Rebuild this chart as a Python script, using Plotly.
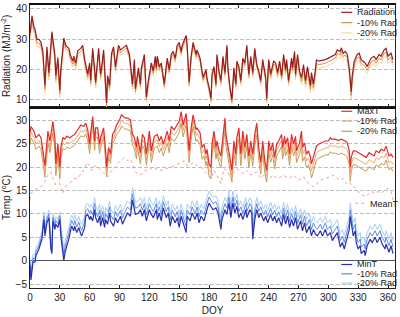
import numpy as np
import plotly.graph_objects as go

# ---------------- data ----------------
rad_doy = [0, 2, 4, 5, 7, 9, 11, 13, 15, 17, 19, 22, 25, 26, 28, 30, 31, 34, 36, 39, 41, 43, 44, 46, 48, 51, 53, 55, 58, 60,
           61, 63, 65, 66, 69, 71, 72, 74, 77, 78, 80, 82, 84, 86, 89, 91, 95, 97, 100, 103, 105, 106, 109, 111, 112, 115, 117, 119, 122, 124,
           126, 127, 128, 130, 132, 135, 138, 140, 142, 144, 146, 148, 150, 152, 153, 157, 158, 160, 162, 164, 167, 168, 171, 174, 177, 178, 180, 182, 183, 185,
           187, 188, 190, 192, 194, 196, 198, 199, 201, 203, 205, 207, 208, 210, 212, 214, 216, 218, 220, 222, 224, 226, 228, 230, 232, 234, 237, 238, 240, 242,
           245, 247, 249, 251, 253, 255, 257, 258, 260, 263, 264, 266, 267, 269, 271, 273, 275, 277, 279, 282, 283, 285, 287, 288, 290, 293, 297, 300, 303, 307,
           309, 312, 313, 315, 317, 319, 321, 323, 324, 326, 329, 331, 333, 335, 337, 339, 341, 343, 346, 348, 351, 353, 356, 358, 360, 363, 365]
rad_val = [32, 37.7, 34, 33.4, 30, 30, 29, 26, 14.8, 27.5, 19, 32.5, 25, 18, 24, 13.2, 20, 30.4, 28, 27, 24.4, 22.8, 24.4, 22.2, 26.2, 27, 28, 23.3, 18.5, 22.2,
           16.4, 27, 20, 15.9, 27, 18.5, 20.6, 26.5, 9, 18, 14.8, 25.4, 27.5, 21, 28, 26.5, 27.5, 28, 25, 15.3, 23.3, 13.7, 20.6, 15.3, 20.6, 25, 11, 16.4, 22.2, 19.6,
           24.4, 20.6, 24.4, 21, 22.2, 15.3, 23.8, 20, 25, 26, 23.8, 28, 29, 26, 28, 31.3, 28, 15.9, 24.4, 29, 25, 26.5, 23.8, 17.4, 20, 17, 14.3, 10.5, 18.5, 21,
           15.3, 25, 19.6, 16.4, 24.4, 19, 28, 20.6, 14.3, 10, 20.6, 15.3, 22.8, 21, 16.4, 23.8, 22.2, 28, 18.5, 24.4, 19, 27, 21.7, 19.6, 16.4, 23.3, 17.4, 10.5, 23.3, 18.5,
           22.8, 22.2, 19, 22.8, 18, 25, 20, 23.3, 16.4, 23.8, 20.6, 26, 18.5, 25, 19.6, 17.4, 21.7, 16.4, 21, 14.8, 19, 15.3, 20, 23.3, 22.8, 23, 23.3, 23.8, 24.4, 25,
           26.5, 26, 27.2, 25.4, 26, 25, 20.6, 12.7, 18, 22.8, 25, 25.4, 23.3, 22.8, 22.2, 21, 22.2, 23.8, 24.4, 23.3, 25, 24.4, 26.5, 27, 24.4, 25.4, 23.3]

tmax_doy = [0, 1, 4, 6, 9, 11, 13, 15, 18, 20, 23, 25, 26, 28, 30, 31, 33, 35, 37, 40, 42, 45, 48, 51, 54, 56, 58, 60, 61, 63,
            65, 66, 68, 70, 71, 74, 76, 77, 79, 81, 83, 85, 87, 90, 92, 95, 98, 101, 103, 105, 107, 108, 111, 113, 115, 117, 120, 122, 125, 128,
            130, 132, 134, 137, 138, 140, 142, 145, 148, 150, 152, 154, 157, 158, 160, 162, 164, 167, 168, 171, 173, 175, 177, 178, 180, 182, 183, 185, 187, 188,
            190, 192, 194, 196, 197, 199, 201, 203, 205, 207, 208, 210, 212, 214, 216, 218, 220, 222, 224, 226, 228, 230, 232, 234, 236, 238, 240, 242, 244, 246,
            248, 250, 253, 254, 256, 257, 259, 261, 263, 265, 267, 268, 271, 273, 274, 276, 278, 280, 282, 283, 285, 287, 288, 290, 293, 297, 300, 302, 303, 307,
            310, 313, 317, 319, 321, 322, 323, 325, 327, 330, 333, 336, 338, 341, 343, 346, 348, 351, 353, 356, 358, 361, 363, 365]
tmax_val = [27.3, 28.7, 27.7, 26.3, 27, 26.3, 23.5, 20.3, 27.7, 25.6, 29.8, 26.3, 20.7, 25, 20, 24.2, 26.3, 26, 26.6, 26.3, 26.6, 27, 28, 29, 28.7, 29.4, 28, 24.9, 27.3, 30.8,
            25.6, 28.4, 28.4, 24.9, 26.3, 28.4, 23.5, 20, 24.2, 22.8, 27, 27.7, 29, 30.1, 31.2, 30.6, 30.5, 30.1, 27, 26.3, 24.2, 26.6, 23.1, 27, 26.3, 22.8, 27.7, 23.5, 26.6, 27,
            25.6, 26.6, 24.9, 27, 27.7, 25.6, 28.7, 28, 29, 29.8, 31.9, 29, 31.5, 29, 23.5, 28.4, 31.2, 28, 28.4, 27.3, 24.2, 24.9, 22.8, 23.8, 20.7, 20, 24.9, 27.7, 24.2, 25.6,
            23.5, 22.4, 27, 30.5, 27, 24.9, 22.1, 19.3, 25.6, 22.8, 26.3, 28.4, 22.8, 27.7, 24.2, 27, 22.4, 25.6, 22.8, 27, 29.4, 24.2, 21, 25.6, 21.4, 19.3, 25.6, 23.5, 25.2, 22.1,
            24.9, 25.6, 27, 24.2, 26.6, 24.9, 26.3, 22.8, 27, 24.9, 26.6, 23.5, 25.2, 27.7, 24.2, 25.2, 22.8, 23.5, 22.1, 20.7, 22.1, 23.5, 24.5, 24.9, 25.2, 25.6, 25.6, 26.3, 26, 26,
            25.7, 26, 25.6, 25.2, 23.5, 20, 22.1, 23.5, 23.5, 23.1, 22.8, 22.4, 22.1, 23.1, 22.8, 22.4, 23.5, 23.1, 23.8, 23.5, 24.5, 22.4, 22.8, 22.1]

tmean_doy = [0, 1, 5, 8, 11, 15, 18, 21, 23, 26, 30, 33, 35, 38, 41, 45, 48, 51, 55, 57, 60, 62, 65, 68, 71, 75, 78, 81, 85, 88,
             91, 95, 98, 101, 104, 106, 110, 113, 116, 120, 123, 126, 132, 138, 145, 152, 155, 158, 162, 165, 168, 172, 175, 178, 182, 185, 188, 192, 195, 198,
             202, 205, 208, 212, 215, 218, 222, 225, 228, 232, 235, 238, 242, 245, 248, 252, 255, 260, 265, 270, 275, 280, 285, 288, 292, 297, 302, 305, 308, 312,
             315, 318, 321, 323, 327, 330, 333, 337, 340, 343, 347, 350, 353, 357, 360, 363, 365]
tmean_val = [13, 14.4, 15.1, 15.5, 15.8, 16.9, 18.3, 19, 17.6, 16.2, 16.5, 14.4, 15.8, 16.2, 16.9, 17.6, 17.6, 18.6, 19.7, 21, 20.3, 19.3, 20.3, 20, 19.3, 18.6, 17.9, 19, 19.7, 20.7,
             21.4, 22.1, 21.4, 21.7, 20.3, 19, 18.3, 18.6, 19.3, 19.3, 20, 19.7, 19.3, 19.7, 20.3, 21, 21.4, 20.3, 20.7, 21, 20.3, 20, 19.3, 18.6, 17.6, 19.3, 18.3, 16.5, 19.7, 19.3,
             17.6, 19, 19.7, 19, 18.6, 19.3, 18.3, 18.6, 19, 17.6, 18.3, 17.2, 17.9, 18.3, 17.6, 17.9, 18.3, 17.6, 18.3, 17.2, 17.9, 16.5, 15.8, 16.5, 17.2, 17.6, 17.9, 18.3, 17.9, 17.2,
             17.6, 16.5, 16.9, 16.2, 15.5, 14.8, 14.1, 13.7, 14.1, 14.8, 14.4, 14.8, 14.4, 15.1, 15.5, 14.8, 13]

tmin_doy = [0, 1, 3, 5, 6, 9, 11, 12, 14, 15, 17, 19, 21, 22, 23, 25, 26, 28, 30, 31, 34, 35, 37, 39, 41, 42, 44, 45, 47, 49,
            51, 52, 55, 56, 58, 60, 61, 63, 65, 66, 68, 70, 71, 73, 75, 76, 78, 80, 81, 84, 86, 88, 91, 93, 95, 98, 101, 103, 105, 106,
            109, 111, 113, 115, 117, 120, 122, 124, 127, 128, 130, 132, 134, 137, 139, 141, 143, 146, 148, 150, 152, 154, 157, 158, 161, 163, 166, 168, 170, 172,
            175, 178, 180, 182, 184, 187, 189, 192, 193, 196, 198, 200, 202, 204, 206, 208, 210, 212, 214, 217, 218, 221, 223, 224, 226, 228, 230, 232, 235, 237,
            239, 242, 244, 246, 248, 250, 253, 255, 257, 259, 261, 263, 265, 267, 269, 272, 274, 276, 278, 281, 283, 285, 287, 289, 292, 294, 297, 299, 302, 304,
            307, 309, 312, 314, 316, 318, 321, 322, 323, 325, 327, 328, 330, 332, 333, 336, 337, 339, 342, 344, 347, 349, 352, 354, 357, 358, 361, 363, 365]
tmin_val = [-1, -4.1, -0.3, -0.3, 1.1, 2.5, 3.9, 4.6, 8.8, 5.3, 8.1, 9.2, 2.5, 1.5, 8.5, 6.7, 7.8, 7.1, 8.8, 5.3, 0, 1.5, 3.2, 4.6, 6.7, 7.4, 6.4, 7.4, 6, 7.1,
            5.7, 5.3, 7.1, 9.5, 9.9, 8.8, 9.5, 8.5, 10.9, 9.2, 8.1, 9.5, 7.4, 9.2, 7.1, 8.8, 7.8, 10.2, 8.5, 7.4, 9.2, 8.1, 9.5, 7.8, 8.8, 10.2, 9.5, 13, 10.9, 9.9,
            10.2, 10.9, 9.5, 10.9, 8.5, 10.9, 9.9, 9.2, 10.9, 8.8, 10.2, 8.5, 11.3, 9.2, 10.2, 7.4, 9.5, 8.1, 9.2, 7.1, 9.5, 8.1, 6, 9.5, 8.5, 10.2, 8.8, 10.2, 8.1, 9.5,
            8.5, 10.9, 12.3, 11.6, 10.9, 11.3, 10.2, 6.7, 8.8, 10.9, 9.9, 12.3, 9.2, 12.3, 10.2, 11.6, 9.2, 10.2, 8.8, 10.9, 9.2, 10.9, 10.2, 4.6, 8.8, 10.9, 9.2, 10.2, 8.5, 9.5,
            8.1, 9.9, 8.5, 9.5, 8.1, 9.2, 7.4, 9.9, 7.8, 9.5, 7.1, 8.8, 7.4, 9.2, 6.7, 8.5, 6.4, 8.1, 6, 7.4, 5.3, 6.7, 5.7, 5.3, 6.4, 5.3, 6.7, 5.3, 6, 4.3,
            5.3, 6, 2.9, 3.9, 2.5, 4.3, 6.7, 9.5, 8.1, 5.3, 6.4, 3.9, 2.5, 3.2, 1.5, 2.2, 1.1, 3.2, 4.6, 3.9, 5, 3.9, 5, 3.6, 2.5, 3.6, 1.8, 3.2, 1.5]

# monthly gaps between the base series and the reduced-radiation series
month_start = [0, 31, 59, 90, 120, 151, 181, 212, 243, 273, 304, 334]
rad_gap10 = [1.2, 1.0, 1.0, 0.9, 0.8, 0.8, 0.8, 0.8, 0.9, 1.2, 1.2, 1.2]
rad_gap20 = [2.4, 2.0, 2.0, 1.8, 1.6, 1.6, 1.6, 1.6, 1.8, 2.4, 2.4, 2.4]
tmax_gap10 = [1.3, 1.2, 1.0, 1.2, 1.2, 1.2, 1.2, 1.2, 1.2, 1.5, 1.5, 1.5]
tmax_gap20 = [2.5, 2.3, 2.0, 2.4, 2.5, 2.5, 2.5, 2.5, 2.5, 3.0, 3.0, 3.0]
tmin_gap10 = [0.8, 1.2, 1.3, 1.3, 1.3, 1.3, 1.3, 1.3, 1.3, 1.4, 1.4, 1.4]
tmin_gap20 = [1.6, 2.4, 2.6, 2.6, 2.6, 2.6, 2.6, 2.6, 2.6, 2.8, 2.8, 2.8]

x_ticks = list(range(0, 361, 30))
rad_ticks = [10, 20, 30, 40]
temp_ticks = [-5, 0, 5, 10, 15, 20, 25, 30]


def by_month(doy, gaps):
    idx = np.searchsorted(month_start, doy, side="right") - 1
    return np.array(gaps)[idx]


rad_d = np.array(rad_doy); rad_v = np.array(rad_val)
tmax_d = np.array(tmax_doy); tmax_v = np.array(tmax_val)
tmin_d = np.array(tmin_doy); tmin_v = np.array(tmin_val)

# ---------------- figure ----------------
W, H = 400, 317
ML, MR, MT, MB = 30, 3, 3, 25
PW, PH = W - ML - MR, H - MT - MB
split = 185 / PH

C_RAD = ["#9B1B1E", "#D58E52", "#F3D7A2"]
C_MAX = ["#E52A2A", "#F2A870", "#C39A5C"]
C_MEAN = "#F29A9A"
C_MIN = ["#2A2FB0", "#5B8BE0", "#A9CDF2"]

fig = go.Figure()
# top panel (radiation)
fig.add_trace(go.Scatter(x=rad_d, y=rad_v - by_month(rad_d, rad_gap20), mode="lines",
                         line=dict(color=C_RAD[2], width=1), xaxis="x2", yaxis="y2", name="-20% Rad"))
fig.add_trace(go.Scatter(x=rad_d, y=rad_v - by_month(rad_d, rad_gap10), mode="lines",
                         line=dict(color=C_RAD[1], width=1), xaxis="x2", yaxis="y2", name="-10% Rad"))
fig.add_trace(go.Scatter(x=rad_d, y=rad_v, mode="lines",
                         line=dict(color=C_RAD[0], width=1.2), xaxis="x2", yaxis="y2", name="Radiation"))
# bottom panel (temperature)
fig.add_trace(go.Scatter(x=tmean_doy, y=tmean_val, mode="lines",
                         line=dict(color=C_MEAN, width=1, dash="dot"), name="MeanT"))
fig.add_trace(go.Scatter(x=tmax_d, y=tmax_v - by_month(tmax_d, tmax_gap20), mode="lines",
                         line=dict(color=C_MAX[2], width=1), name="-20% Rad"))
fig.add_trace(go.Scatter(x=tmax_d, y=tmax_v - by_month(tmax_d, tmax_gap10), mode="lines",
                         line=dict(color=C_MAX[1], width=1), name="-10% Rad"))
fig.add_trace(go.Scatter(x=tmax_d, y=tmax_v, mode="lines",
                         line=dict(color=C_MAX[0], width=1.2), name="MaxT"))
fig.add_trace(go.Scatter(x=tmin_d, y=tmin_v + by_month(tmin_d, tmin_gap20), mode="lines",
                         line=dict(color=C_MIN[2], width=1), name="-20% Rad"))
fig.add_trace(go.Scatter(x=tmin_d, y=tmin_v + by_month(tmin_d, tmin_gap10), mode="lines",
                         line=dict(color=C_MIN[1], width=1), name="-10% Rad"))
fig.add_trace(go.Scatter(x=tmin_d, y=tmin_v, mode="lines",
                         line=dict(color=C_MIN[0], width=1.2), name="MinT"))

FONT = "Arial, Liberation Sans, sans-serif"
axis_common = dict(showline=True, linecolor="#222", linewidth=1, mirror=True,
                   tickfont=dict(size=10, color="#222", family=FONT))
grid = dict(showgrid=True, gridcolor="#bdbdbd", gridwidth=1, griddash="4px,2px")

fig.update_layout(
    width=W, height=H, margin=dict(l=ML, r=MR, t=MT, b=MB),
    paper_bgcolor="white", plot_bgcolor="white", showlegend=False,
    font=dict(family=FONT, size=10, color="#222"),
    xaxis=dict(domain=[0, 1], range=[0, 367], tickvals=x_ticks, ticks="inside", ticklen=3,
               tickcolor="#222", anchor="y", title=dict(text="DOY", standoff=4, font=dict(size=10)),
               showgrid=False, zeroline=False, **axis_common),
    yaxis=dict(domain=[0, split], range=[-5.84, 32.9], tickvals=temp_ticks, anchor="x",
               ticks="", zeroline=True, zerolinecolor="#555", zerolinewidth=1,
               title=dict(text="Temp (<sup>o</sup>C)", standoff=3, font=dict(size=10)),
               **grid, **axis_common),
    xaxis2=dict(domain=[0, 1], range=[0, 367], tickvals=x_ticks, ticks="inside", ticklen=3,
                tickcolor="#222", anchor="y2", showticklabels=False, showgrid=False, zeroline=False,
                showline=True, linecolor="#111", linewidth=2, mirror="ticks",
                tickfont=dict(size=10)),
    yaxis2=dict(domain=[split, 1], range=[7.74, 41.3], tickvals=rad_ticks, anchor="x2",
                ticks="", zeroline=False,
                title=dict(text="Radiation (MJ/m<sup>-2</sup>)", standoff=3, font=dict(size=10)),
                **grid, **axis_common),
)


# ---------------- hand-drawn legends (compact, like the original) ----------------
def fx(px):
    return (px - ML) / PW


def fy(py):
    return (H - MB - py) / PH


legend_groups = [
    (["Radiation", "-10% Rad", "-20% Rad"], C_RAD, [10.5, 21, 31.5], ["solid"] * 3),
    (["MaxT", "-10% Rad", "-20% Rad"], C_MAX, [111.5, 121.5, 132], ["solid"] * 3),
    (["MinT", "-10% Rad", "-20% Rad"], C_MIN, [268, 277.5, 287], ["solid"] * 3),
]
shapes, annos = [], []
for labels, colors, ys, dashes in legend_groups:
    for lab, col, py, d in zip(labels, colors, ys, dashes):
        shapes.append(dict(type="line", xref="paper", yref="paper", x0=fx(343), x1=fx(354),
                           y0=fy(py), y1=fy(py), line=dict(color=col, width=1.2, dash=d)))
        annos.append(dict(text=lab, xref="paper", yref="paper", x=fx(356.5), y=fy(py),
                          xanchor="left", yanchor="middle", showarrow=False,
                          font=dict(size=9, color="#222", family=FONT)))
# MeanT label
shapes.append(dict(type="line", xref="paper", yref="paper", x0=fx(357), x1=fx(367),
                   y0=fy(205.5), y1=fy(205.5), line=dict(color=C_MEAN, width=1, dash="dot")))
annos.append(dict(text="MeanT", xref="paper", yref="paper", x=fx(369.5), y=fy(206),
                  xanchor="left", yanchor="middle", showarrow=False,
                  font=dict(size=9, color="#222", family=FONT)))
fig.update_layout(shapes=shapes, annotations=annos)

fig.write_html("out.html", config={"displayModeBar": False},
               post_script="document.body.style.margin='0px';document.body.style.overflow='hidden';")
